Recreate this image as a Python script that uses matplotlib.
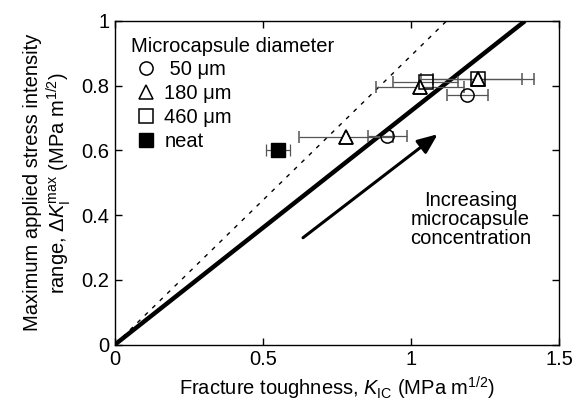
import matplotlib
matplotlib.use("Agg")
import matplotlib.pyplot as plt
from matplotlib.lines import Line2D

plt.rcParams['font.family'] = ['Liberation Sans', 'DejaVu Sans']
plt.rcParams['mathtext.fontset'] = 'custom'
plt.rcParams['mathtext.rm'] = 'Liberation Sans'
plt.rcParams['mathtext.it'] = 'Liberation Sans:italic'
plt.rcParams['mathtext.bf'] = 'Liberation Sans:bold'

# Data
neat_k = [0.55]
neat_dk = [0.60]
neat_err = [0.04]

d50_k = [0.92, 1.19]
d50_dk = [0.645, 0.77]
d50_err = [0.065, 0.07]

d180_k = [0.78, 1.03, 1.225]
d180_dk = [0.64, 0.795, 0.82]
d180_err = [0.16, 0.15, 0.19]

d460_k = [1.05, 1.225]
d460_dk = [0.81, 0.82]
d460_err = [0.11, 0.15]

thick_line_x = [0, 1.385]
thick_line_y = [0, 1.0]
dashed_line_x = [0, 1.12]
dashed_line_y = [0, 1.0]

fs = 14.5
fig = plt.figure(figsize=(5.73, 4.09), dpi=100)
ax = fig.add_axes([0.2007, 0.1577, 0.775, 0.791])

ax.plot(dashed_line_x, dashed_line_y, color='black', lw=1.0, ls=(0, (3, 4.5)), zorder=2)
ax.plot(thick_line_x, thick_line_y, color='black', lw=3.2, solid_capstyle='butt', zorder=3)

eb = dict(ecolor='#555555', elinewidth=0.9, capsize=4, capthick=0.9, ls='none', zorder=4)
ms = 9.5
ax.errorbar(neat_k, neat_dk, xerr=neat_err, marker='s', ms=ms+1, mfc='black', mec='black', **eb)
ax.errorbar(d180_k, d180_dk, xerr=d180_err, marker='^', ms=ms+1, mfc='white', mec='black', mew=1.1, **eb)
ax.errorbar(d460_k, d460_dk, xerr=d460_err, marker='s', ms=ms+0.5, mfc='none', mec='black', mew=1.1, **eb)
ax.errorbar(d50_k, d50_dk, xerr=d50_err, marker='o', ms=ms, mfc='none', mec='black', mew=1.1, **eb)
# redraw triangle outlines on top where overlapping
ax.plot(d180_k, d180_dk, marker='^', ms=ms+1, mfc='none', mec='black', mew=1.1, ls='none', zorder=6)

ax.annotate('', xy=(1.09, 0.65), xytext=(0.635, 0.33),
            arrowprops=dict(arrowstyle='-|>,head_length=1.2,head_width=0.5', lw=2.2, color='black',
                            shrinkA=0, shrinkB=0))
ax.text(1.2, 0.385, 'Increasing\nmicrocapsule\nconcentration', ha='center', va='center',
        fontsize=fs, linespacing=1.0)

ax.set_xlim(0, 1.5)
ax.set_ylim(0, 1)
ax.set_xticks([0, 0.5, 1, 1.5])
ax.set_xticklabels(['0', '0.5', '1', '1.5'])
ax.set_yticks([0, 0.2, 0.4, 0.6, 0.8, 1])
ax.set_yticklabels(['0', '0.2', '0.4', '0.6', '0.8', '1'])
ax.tick_params(direction='in', top=True, right=True, length=5, width=1, labelsize=fs, pad=4)
for s in ax.spines.values():
    s.set_linewidth(1.0)

ax.set_xlabel(r'Fracture toughness, $\mathit{K}_{\rm IC}$ (MPa m$^{1/2}$)', fontsize=fs, labelpad=4)
ax.set_ylabel('Maximum applied stress intensity\n' + r'range, $\Delta\mathit{K}_{\rm I}^{\rm max}$ (MPa m$^{1/2}$)',
              fontsize=fs, labelpad=6, linespacing=1.12)

handles = [
    Line2D([], [], marker='o', ms=ms, mfc='none', mec='black', mew=1.1, ls='none'),
    Line2D([], [], marker='^', ms=ms+1, mfc='none', mec='black', mew=1.1, ls='none'),
    Line2D([], [], marker='s', ms=ms, mfc='none', mec='black', mew=1.1, ls='none'),
    Line2D([], [], marker='s', ms=ms, mfc='black', mec='black', ls='none'),
]
labels = [' 50 \u03bcm', '180 \u03bcm', '460 \u03bcm', 'neat']
leg = ax.legend(handles, labels, title='Microcapsule diameter', loc='upper left',
                bbox_to_anchor=(0.0, 1.0), frameon=False, fontsize=fs, title_fontsize=fs,
                handletextpad=0.15, handlelength=1.5, labelspacing=0.25, borderpad=0.3,
                alignment='left')
leg._legend_box.sep = 3

fig.savefig('out.png', dpi=100)
